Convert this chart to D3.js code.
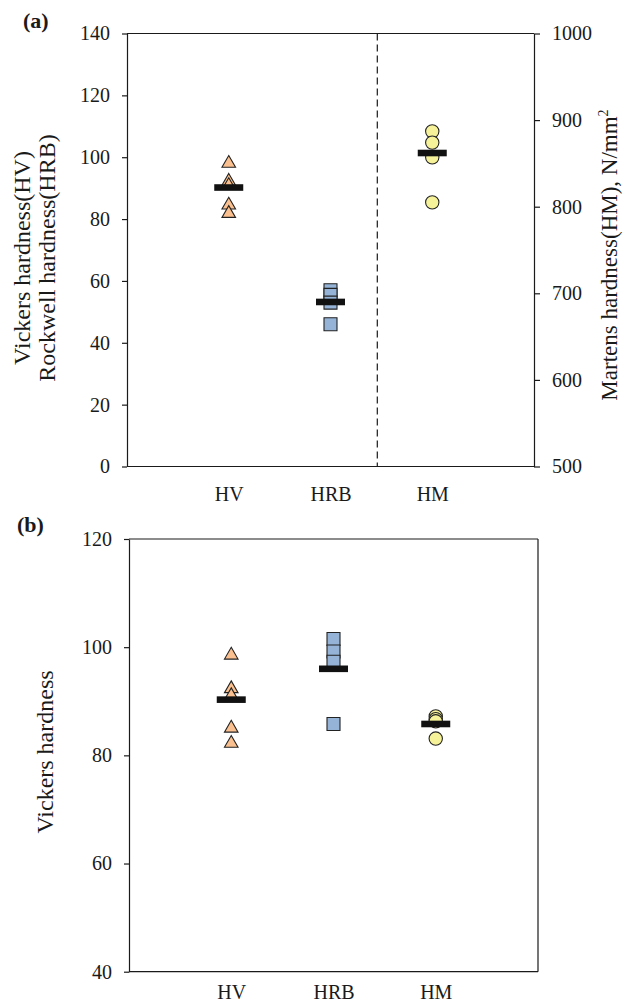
<!DOCTYPE html>
<html>
<head>
<meta charset="utf-8">
<script src="https://cdn.jsdelivr.net/npm/d3@7"></script>
<style>
  html, body { margin: 0; padding: 0; background: #fff; }
  svg { display: block; }
  text { font-family: "Liberation Serif", "Times New Roman", serif; fill: #1a1a1a; }
</style>
</head>
<body>
<svg id="chart" width="625" height="1002"></svg>
<script>
// ---------- data ----------
const categories = ["HV", "HRB", "HM"];
const aLeftTicks = [0, 20, 40, 60, 80, 100, 120, 140];
const aRightTicks = [500, 600, 700, 800, 900, 1000];
const bTicks = [40, 60, 80, 100, 120];

// panel (a): HV and HRB on left axis, HM on right axis (N/mm²)
const aHV = [98.5, 92.7, 91.3, 85.0, 82.3];
const aHRB = [57.0, 55.5, 53.0, 46.0];
const aHM = [887, 874, 857, 805];
const aMeans = [90.2, 53.2, 862];
const aDivider = 2.46;

// panel (b): all converted to Vickers hardness
const bHV = [98.8, 92.6, 91.3, 85.3, 82.5];
const bHRB = [101.5, 99.2, 97.3, 85.8];
const bHM = [87.2, 86.7, 86.3, 83.1];
const bMeans = [90.3, 96.0, 85.8];

// ---------- styles ----------
const axisColor = "#1a1a1a";
const fills = { HV: "#FAC08F", HRB: "#95B3D7", HM: "#F6F29A" };
const symbols = { HV: d3.symbolTriangle, HRB: d3.symbolSquare, HM: d3.symbolCircle };
const sizes = { HV: 80, HRB: 169, HM: 140 };

const svg = d3.select("#chart");

function styleAxis(g) {
  g.selectAll("path, line").attr("stroke", axisColor).attr("stroke-width", 1.2);
  g.selectAll("text").attr("font-size", 20).attr("fill", "#1a1a1a")
    .attr("font-family", '"Liberation Serif", "Times New Roman", serif');
}

function panel(opts) {
  const { left, right, top, bottom, yDomain, yTicks, series, means, meanScales, catPad } = opts;
  const x = d3.scaleLinear().domain([0, 4]).range([left, right]);
  const y = d3.scaleLinear().domain(yDomain).range([bottom, top]);
  const g = svg.append("g");

  g.append("line").attr("x1", left).attr("x2", right).attr("y1", top).attr("y2", top)
    .attr("stroke", axisColor).attr("stroke-width", 1.2);
  if (!opts.yRight) {
    g.append("line").attr("x1", right).attr("x2", right).attr("y1", top).attr("y2", bottom)
      .attr("stroke", axisColor).attr("stroke-width", 1.2);
  }

  g.append("g").attr("transform", `translate(${left},0)`)
    .call(d3.axisLeft(y).tickValues(yTicks).tickSize(5).tickSizeOuter(0).tickPadding(12).tickFormat(d3.format("d")))
    .call(styleAxis);

  let y2 = null;
  if (opts.yRight) {
    y2 = d3.scaleLinear().domain(opts.yRight.domain).range([bottom, top]);
    g.append("g").attr("transform", `translate(${right},0)`)
      .call(d3.axisRight(y2).tickValues(opts.yRight.ticks).tickSize(6).tickSizeOuter(0).tickPadding(12).tickFormat(d3.format("d")))
      .call(styleAxis);
  }

  const xb = d3.scalePoint().domain(categories).range([x(1), x(3)]);
  const ax = g.append("g").attr("transform", `translate(0,${bottom})`)
    .call(d3.axisBottom(xb).tickSize(0).tickPadding(catPad))
    .call(styleAxis);
  ax.select(".domain").remove();
  g.append("line").attr("x1", left).attr("x2", right).attr("y1", bottom).attr("y2", bottom)
    .attr("stroke", axisColor).attr("stroke-width", 1.2);

  if (opts.divider != null) {
    g.append("line").attr("x1", x(opts.divider)).attr("x2", x(opts.divider))
      .attr("y1", top).attr("y2", bottom)
      .attr("stroke", axisColor).attr("stroke-width", 1.2).attr("stroke-dasharray", "7,4");
  }

  categories.forEach((c, i) => {
    const ys = meanScales[i] === "right" ? y2 : y;
    const sym = d3.symbol().type(symbols[c]).size(sizes[c]);
    g.append("g").selectAll("path").data(series[i]).join("path")
      .attr("d", sym)
      .attr("transform", d => `translate(${xb(c)},${ys(d) + (c === "HV" ? 1.5 : 0)})`)
      .attr("fill", fills[c]).attr("stroke", "#222").attr("stroke-width", 1.1);
  });

  categories.forEach((c, i) => {
    const ys = meanScales[i] === "right" ? y2 : y;
    g.append("rect")
      .attr("x", xb(c) - 14.5).attr("width", 29)
      .attr("y", ys(means[i]) - 3.3).attr("height", 6.6)
      .attr("fill", "#111");
  });
}

panel({
  left: 127, right: 534, top: 33.5, bottom: 466.5,
  yDomain: [0, 140], yTicks: aLeftTicks,
  yRight: { domain: [500, 1000], ticks: aRightTicks },
  series: [aHV, aHRB, aHM], means: aMeans, meanScales: ["left", "left", "right"],
  divider: aDivider, catPad: 20
});

panel({
  left: 129, right: 538, top: 539, bottom: 971.7,
  yDomain: [40, 120], yTicks: bTicks,
  series: [bHV, bHRB, bHM], means: bMeans, meanScales: ["left", "left", "left"],
  divider: null, catPad: 13
});

svg.append("text").attr("x", 23).attr("y", 28).attr("font-size", 22).attr("font-weight", "bold").text("(a)");
svg.append("text").attr("x", 17).attr("y", 532).attr("font-size", 22).attr("font-weight", "bold").text("(b)");

svg.append("text").attr("transform", "translate(30,258) rotate(-90)").attr("text-anchor", "middle")
  .attr("font-size", 24).text("Vickers hardness(HV)");
svg.append("text").attr("transform", "translate(55,258) rotate(-90)").attr("text-anchor", "middle")
  .attr("font-size", 24).text("Rockwell hardness(HRB)");

const rt = svg.append("text").attr("transform", "translate(617,255) rotate(-90)").attr("text-anchor", "middle")
  .attr("font-size", 23);
rt.append("tspan").text("Martens hardness(HM), N/mm");
rt.append("tspan").attr("font-size", 14).attr("dy", -9).text("2");

svg.append("text").attr("transform", "translate(53,752) rotate(-90)").attr("text-anchor", "middle")
  .attr("font-size", 24).text("Vickers hardness");
</script>
</body>
</html>
